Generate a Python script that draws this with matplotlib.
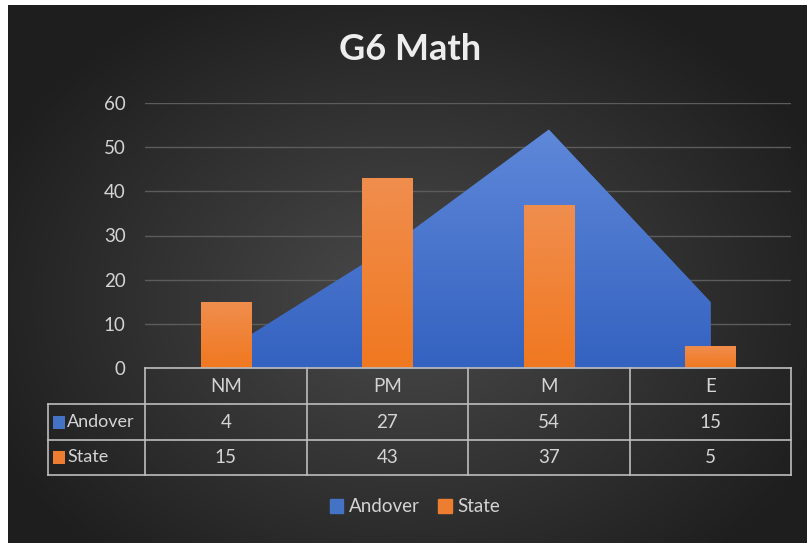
import numpy as np
import matplotlib.pyplot as plt
from matplotlib.colors import LinearSegmentedColormap
from matplotlib.patches import Rectangle, Patch

# data
categories = ["NM", "PM", "M", "E"]
andover = [4, 27, 54, 15]
state = [15, 43, 37, 5]
series_names = ["Andover", "State"]
series_colors = ["#4472C4", "#ED7D31"]
title = "G6 Math"
yticks = [0, 10, 20, 30, 40, 50, 60]

W, H = 807, 543
plt.rcParams['font.family'] = ['Lato', 'DejaVu Sans']
txt_col = '#D4D4D4'
line_col = '#BDBDBD'

fig = plt.figure(figsize=(W / 100, H / 100), dpi=100, facecolor='white')

# dark radial background
bg = fig.add_axes([8 / W, 0, 1 - 8 / W, 1 - 5 / H], zorder=0)
yy, xx = np.mgrid[0:1:300j, 0:1:400j]
r = np.sqrt(((xx - 0.5) / 0.8) ** 2 + ((yy - 0.55) / 0.9) ** 2)
bg_cmap = LinearSegmentedColormap.from_list('bg', ['#4a4a4a', '#1e1e1e'])
bg.imshow(r, cmap=bg_cmap, aspect='auto', extent=(0, 1, 0, 1), vmin=0, vmax=0.72)
bg.axis('off')

# plot area
px0, px1, ptop, pbot = 145, 791, 103, 368
ax = fig.add_axes([px0 / W, 1 - pbot / H, (px1 - px0) / W, (pbot - ptop) / H], zorder=1)
ax.patch.set_alpha(0)
x = np.arange(len(categories))
grad = np.linspace(0, 1, 256).reshape(-1, 1)

# Andover area with vertical gradient
area = ax.fill_between(x, andover, color=series_colors[0], lw=0, zorder=2)
blue_cmap = LinearSegmentedColormap.from_list('b', ['#3462C0', '#5F88D9'])
im = ax.imshow(grad, cmap=blue_cmap, origin='lower', aspect='auto',
               extent=(x[0], x[-1], 0, max(andover)), zorder=2.1)
im.set_clip_path(area.get_paths()[0], ax.transData)

# State bars with gradient
bars = ax.bar(x, state, width=0.31, color=series_colors[1], zorder=3)
orange_cmap = LinearSegmentedColormap.from_list('o', ['#F07820', '#F08E4E'])
for b in bars:
    bx, bw, bh = b.get_x(), b.get_width(), b.get_height()
    bim = ax.imshow(grad, cmap=orange_cmap, origin='lower', aspect='auto',
                    extent=(bx, bx + bw, 0, bh), zorder=3.1)
    bim.set_clip_path(b)

ax.set_xlim(-0.5, len(categories) - 0.5)
ax.set_ylim(0, 60)
ax.set_yticks(yticks)
ax.set_xticks([])
ax.grid(axis='y', color='#5c5c5c', lw=1)
ax.set_axisbelow(True)
ax.tick_params(axis='y', length=0, pad=14, labelsize=13.5, labelcolor=txt_col)
for s in ax.spines.values():
    s.set_visible(False)

# title
fig.text(410 / W, 1 - 50 / H, title, ha='center', va='center', fontsize=26,
         fontweight='bold', color='#EDEDED')

# data table (pixel coordinates overlay)
ov = fig.add_axes([0, 0, 1, 1], zorder=2)
ov.set_xlim(0, W)
ov.set_ylim(H, 0)
ov.axis('off')
col_edges = np.linspace(px0, px1, len(categories) + 1)
row_edges = [368, 404, 440, 475]
tl = 48
kw = dict(color=line_col, lw=1.2)
ov.plot([px0, px1], [row_edges[0]] * 2, **kw)
for yv in row_edges[1:]:
    ov.plot([tl, px1], [yv] * 2, **kw)
ov.plot([tl, tl], [row_edges[1], row_edges[-1]], **kw)
for xv in col_edges:
    ov.plot([xv, xv], [row_edges[0], row_edges[-1]], **kw)

centers = (col_edges[:-1] + col_edges[1:]) / 2
ymid = [(row_edges[i] + row_edges[i + 1]) / 2 for i in range(3)]
for cx, c in zip(centers, categories):
    ov.text(cx, ymid[0], c, ha='center', va='center', fontsize=13.5, color=txt_col)
for row, (name, vals, col) in enumerate(zip(series_names, [andover, state], series_colors)):
    yc = ymid[row + 1]
    ov.add_patch(Rectangle((53, yc - 6.5), 12, 13, color=col, lw=0))
    ov.text(67, yc, name, ha='left', va='center', fontsize=13, color=txt_col)
    for cx, v in zip(centers, vals):
        ov.text(cx, yc, str(v), ha='center', va='center', fontsize=13.5, color=txt_col)

# legend
handles = [Patch(color=c, label=n) for n, c in zip(series_names, series_colors)]
fig.legend(handles=handles, loc='center', bbox_to_anchor=(415 / W, 1 - 507 / H), ncol=2,
           frameon=False, fontsize=13.5, labelcolor=txt_col, handlelength=0.7,
           handleheight=0.85, handletextpad=0.3, columnspacing=1.0)

fig.savefig('out.png', dpi=100, facecolor=fig.get_facecolor())
